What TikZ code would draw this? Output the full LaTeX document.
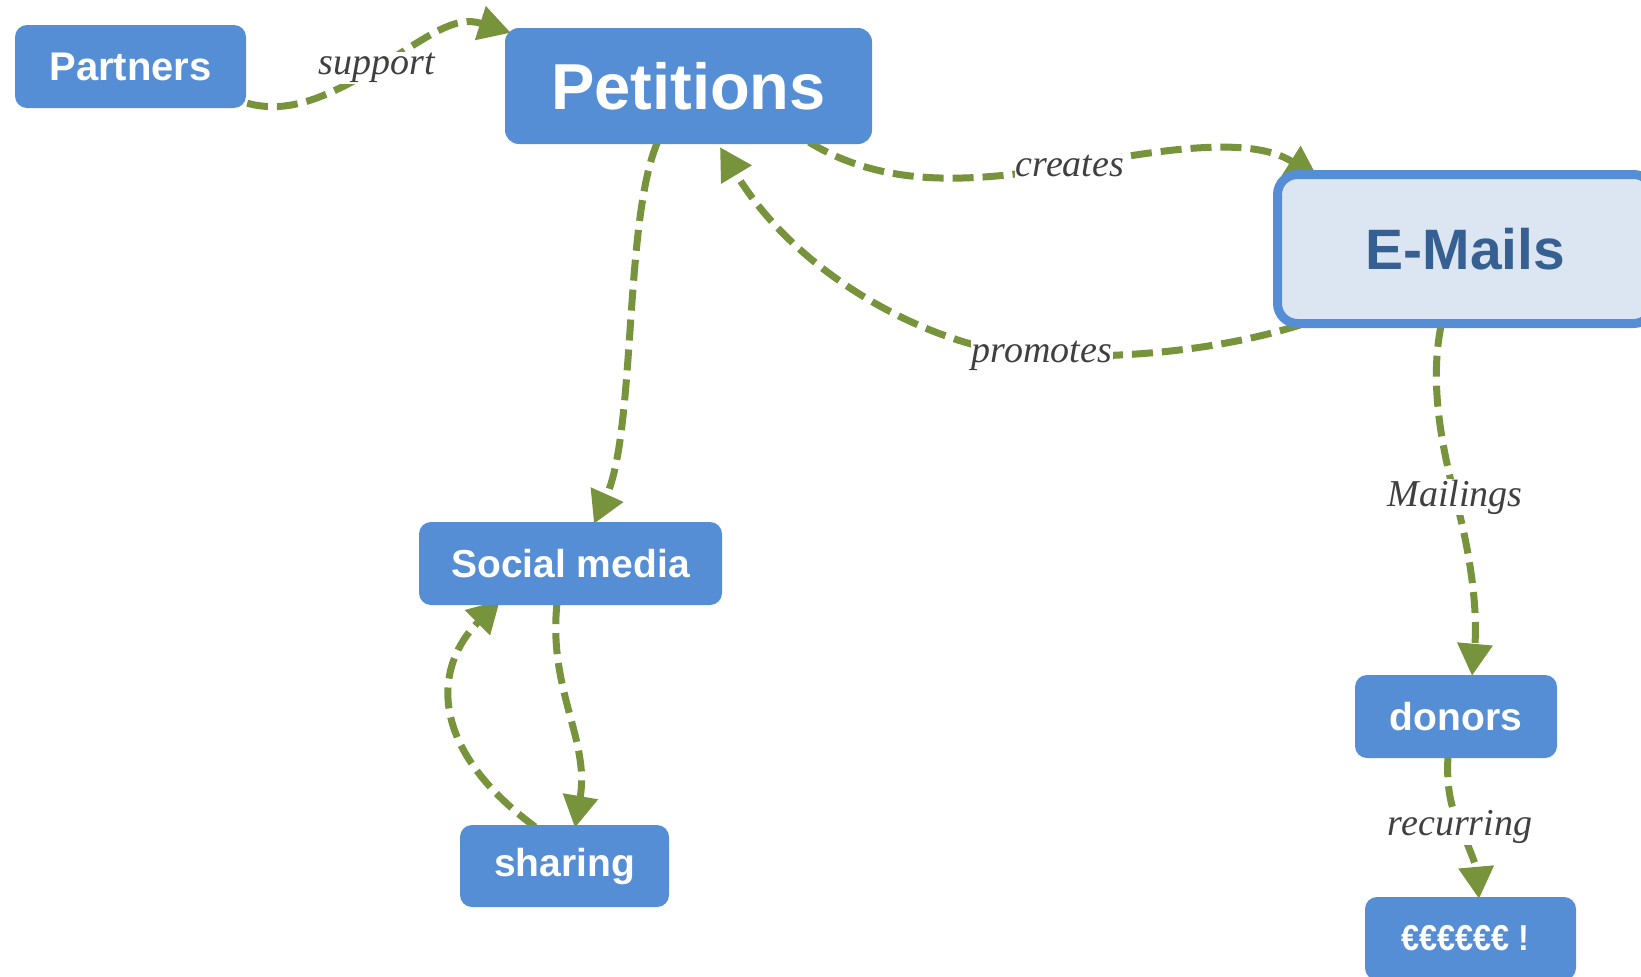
\documentclass[tikz,border=0pt]{standalone}
\usepackage{fontspec}
\usepackage{graphicx}
\setmainfont{Liberation Sans}
\newfontfamily\lblfont{Liberation Serif}
\usetikzlibrary{arrows.meta,calc}
\definecolor{nodeblue}{HTML}{558ED5}
\definecolor{mailfill}{HTML}{DCE6F2}
\definecolor{mailtext}{HTML}{376092}
\definecolor{arrowgreen}{HTML}{77933C}
\definecolor{lblgray}{HTML}{404040}
\pgfdeclarelayer{edgelayer}
\pgfsetlayers{edgelayer,main}
\begin{document}
\begin{tikzpicture}[x=1pt,y=-1pt,
  box/.style={fill=nodeblue, text=white, rounded corners=12pt, inner sep=0pt,
    font=\bfseries\fontsize{39}{44}\selectfont},
  link/.style={draw=arrowgreen, line width=7pt, dash pattern=on 21pt off 9pt,
    -{Triangle[length=32pt,width=34pt]}},
  lbl/.style={fill=white, text=lblgray, inner sep=1pt,
    font=\lblfont\itshape\fontsize{38}{40}\selectfont}
]
\path[use as bounding box, clip] (0,0) rectangle (1641,977);

% nodes
\node[box, minimum width=231pt, minimum height=83pt, font=\bfseries\fontsize{40}{44}\selectfont] (Pa) at (130.5,66.5) {Partners};
\node[box, minimum width=367pt, minimum height=116pt, rounded corners=14pt, font=\bfseries\fontsize{65}{70}\selectfont] (Pe) at (688.5,86) {Petitions};
\node[draw=nodeblue, line width=9pt, fill=mailfill, text=mailtext, rounded corners=20pt, inner sep=0pt,
  minimum width=376pt, minimum height=149pt, font=\bfseries\fontsize{57}{62}\selectfont] (E) at (1465.5,249) {E-Mails};
\node[box, minimum width=303pt, minimum height=83pt] (S) at (570.5,563.5) {Social media};
\node[box, minimum width=209pt, minimum height=82pt] (Sh) at (564.5,866) {sharing};
\node[box, minimum width=202pt, minimum height=83pt] (D) at (1456,716.5) {donors};
\node[box, minimum width=211pt, minimum height=83pt, font=\bfseries\fontsize{36}{40}\selectfont] (M) at (1470.5,938.5) {\scalebox{0.9}[1]{€€€€€€ !}\hspace*{10pt}};

% connectors (under the nodes)
\begin{pgfonlayer}{edgelayer}
\path[link] ($(Pa.south east)+(1,-5)$) .. controls (290,115) and (330,95) .. (377,68)
  node[lbl]{support} .. controls (430,35) and (455,15) .. ($(Pe.north west)+(6,5)$);
\path[link] ($(Pe.south)+(-31,-2)$) .. controls (624,220) and (636,430) .. ($(S.north)+(23.5,2)$);
\path[link] ($(Pe.south)+(120.5,-2)$) .. controls (880,185) and (960,185) .. (1070,166)
  node[lbl]{creates} .. controls (1160,150) and (1250,135) .. ($(E.north west)+(45,8)$);
\path[link] ($(E.south west)+(27,-3)$) .. controls (1220,350) and (1130,358) .. (1042,356)
  node[lbl]{promotes} .. controls (940,352) and (800,280) .. ($(Pe.south)+(31.5,3)$);
\path[link] ($(E.south west)+(168,-2)$) .. controls (1430,380) and (1440,440) .. (1455,497)
  node[lbl]{Mailings} .. controls (1470,550) and (1478,610) .. ($(D.north)+(16,1)$);
\path[link] ($(D.south)+(-8,-2)$) .. controls (1446,790) and (1452,810) .. (1460,827)
  node[lbl]{recurring} .. controls (1468,845) and (1476,865) .. ($(M.north)+(8.5,2)$);
\path[link] ($(S.south)+(-13.5,-2)$) .. controls (548,690) and (590,740) .. ($(Sh.north)+(10.5,3)$);
\path[link] ($(Sh.north)+(-29.5,2)$) .. controls (425,745) and (435,665) .. ($(S.south)+(-70.5,-5)$);
\end{pgfonlayer}
\end{tikzpicture}
\end{document}
